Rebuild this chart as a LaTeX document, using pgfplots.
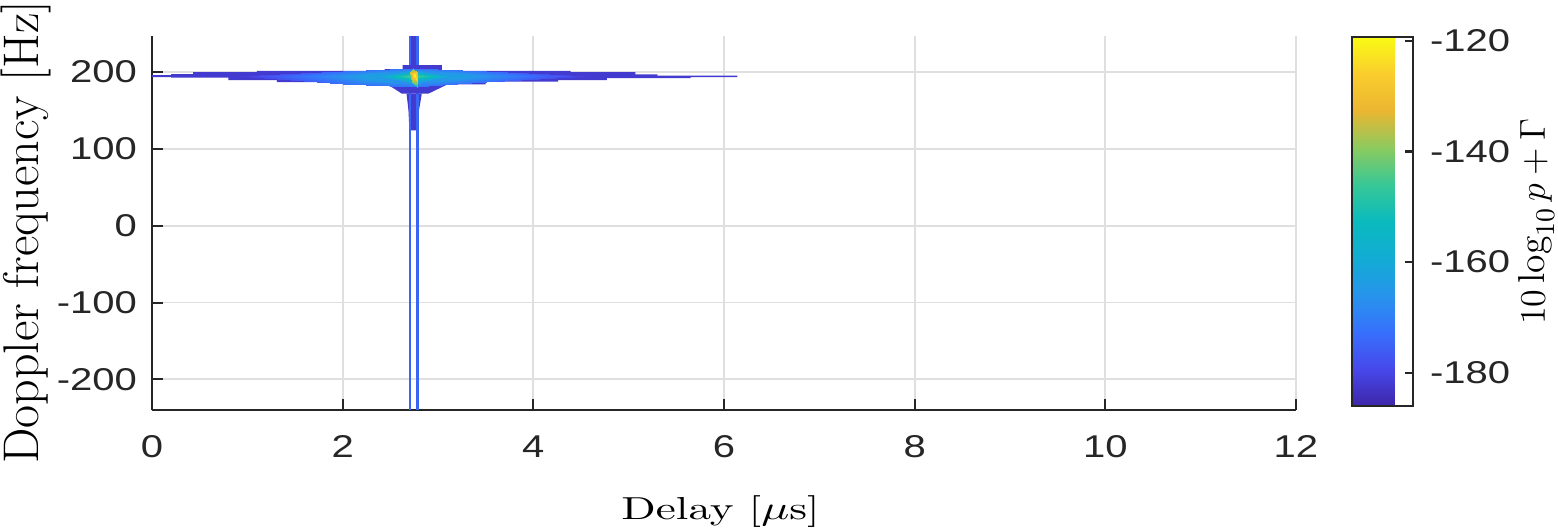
\documentclass[border=0pt]{standalone}
\usepackage{pgfplots}
\pgfplotsset{compat=1.18}
\usepackage{fontspec}
\usepackage{graphicx}
\newfontfamily\tickfont{Liberation Sans}

\definecolor{axgray}{RGB}{38,38,38}
\definecolor{gridgray}{RGB}{223,223,223}
\definecolor{bandblue}{RGB}{67,58,208}
\definecolor{lineblue}{RGB}{58,102,246}

\pgfplotsset{
  colormap={parula}{
    rgb255=(62,38,168) rgb255=(71,72,235) rgb255=(55,112,252)
    rgb255=(39,148,236) rgb255=(18,172,212) rgb255=(10,186,190)
    rgb255=(55,200,150) rgb255=(140,202,95) rgb255=(235,182,50)
    rgb255=(250,205,45) rgb255=(249,251,20)
  },
}
% matlab style tick numbers, a bit wide
\newcommand{\tk}[1]{\scalebox{1.27}[1]{\pgfmathprintnumber[assume math mode=true]{#1}}}

\begin{document}
\begin{tikzpicture}
\begin{axis}[
    name=main,
    scale only axis, width=381.3pt, height=124.7pt,
    xmin=0, xmax=12, ymin=-240, ymax=247,
    xtick={0,2,...,12}, ytick={-200,-100,0,100,200},
    axis x line*=bottom, axis y line*=left,
    axis line style={-, axgray, line width=0.7pt},
    tick align=inside, major tick length=3.6pt,
    tick style={axgray, line width=0.7pt},
    grid=major, grid style={gridgray, line width=0.6pt},
    tick label style={font=\tickfont\fontsize{10.5}{12}\selectfont, text=axgray},
    xticklabel={\tk{\tick}}, yticklabel={\tk{\tick}},
    xticklabel style={yshift=-5pt},
    yticklabel style={xshift=-1.5pt},
    xlabel={\scalebox{1.42}[1]{Delay [$\mu$s]}},
    xlabel style={font=\fontsize{10.6}{12}\selectfont, at={(axis description cs:0.497,-0.2915)}, anchor=base},
    ylabel={\fontsize{16.7}{20}\selectfont Doppler frequency [Hz]},
    ylabel style={at={(axis description cs:-0.1105,0.475)}, anchor=center},
    colormap name=parula,
    point meta min=-186, point meta max=-119.3,
    colorbar,
    colorbar style={
        at={(parent axis.north east)}, anchor=north west,
        xshift=10.1pt, yshift=-0.33pt,
        scale only axis, width=20.3pt, height=123pt,
        ytick={-180,-160,-140,-120},
        ytick pos=right, yticklabel pos=right,
        tick align=inside, major tick length=2.7pt,
        tick style={axgray, line width=0.7pt},
        axis line style={axgray, line width=0.7pt},
        ymajorgrids=false,
        yticklabel style={font=\tickfont\fontsize{10.5}{12}\selectfont, text=axgray, xshift=2.2pt},
        yticklabel={\tk{\tick}},
        ylabel={\fontsize{12.5}{15}\selectfont$10\log_{10}p+\Gamma$},
        ylabel style={at={(axis description cs:3.03,0.5)}, anchor=center},
    },
]
% stems above and below the main peak
\addplot[fill=bandblue, draw=none] coordinates {
    (2.695,209) (2.805,209) (2.805,247) (2.695,247)} -- cycle;
\addplot[fill=bandblue, draw=none] coordinates {
    (2.67,172) (2.83,172) (2.80,150) (2.795,124) (2.70,124) (2.69,150)} -- cycle;
% the two vertical ridges
\addplot[lineblue, line width=0.85pt] coordinates {(2.706,-240) (2.706,247)};
\addplot[lineblue, line width=0.85pt] coordinates {(2.785,-240) (2.785,247)};
% horizontal band (outline of the -182 dB level)
\addplot[fill=bandblue, draw=none] coordinates {
    (0,193.5) (0,196) (0.2,196) (0.2,197.5) (0.43,197.5) (0.43,200)
    (1.1,200) (1.1,201.5) (2.44,201.5) (2.44,204) (2.63,204) (2.63,209)
    (3.04,209) (3.04,201.5) (4.39,201.5) (4.39,200) (5.07,200) (5.07,197)
    (5.3,197) (5.3,195.5) (6.14,195.5) (6.14,193.5) (5.65,193.5) (5.65,192)
    (4.77,192) (4.77,189.6) (4.26,189.6) (4.26,187.5) (3.5,187.5) (3.5,184)
    (3.1,184) (3.0,178) (2.9,172) (2.62,172) (2.52,180) (2.45,184)
    (2.13,184) (2.13,187) (1.31,187) (1.31,189.6) (0.8,189.6) (0.8,192.7)
    (0.2,192.7) (0.2,193.5)} -- cycle;
% glow of the band
\addplot[patch, shader=interp, point meta=explicit] table[meta=c] {
x y c
2.74 195 -155
0.9 195 -182
2.0 201.5 -173
2.74 195 -155
2.0 201.5 -173
2.74 205 -172
2.74 195 -155
2.74 205 -172
3.5 201.5 -173
2.74 195 -155
3.5 201.5 -173
4.6 195 -182
2.74 195 -155
4.6 195 -182
3.5 187.5 -173
2.74 195 -155
3.5 187.5 -173
2.74 181 -172
2.74 195 -155
2.74 181 -172
2.0 184 -173
2.74 195 -155
2.0 184 -173
0.9 195 -182
};
% inner part
\addplot[patch, shader=interp, point meta=explicit] table[meta=c] {
x y c
2.74 195 -142
2.30 195 -166
2.74 204 -170
2.74 195 -142
2.74 204 -170
3.20 195 -166
2.74 195 -142
3.20 195 -166
2.74 183 -170
2.74 195 -142
2.74 183 -170
2.30 195 -166
};
% peak
\addplot[patch, shader=interp, point meta=explicit] table[meta=c] {
x y c
2.745 196 -119.5
2.735 204 -142
2.775 200 -132
2.745 196 -119.5
2.775 200 -132
2.79 186 -130
2.745 196 -119.5
2.79 186 -130
2.78 180 -152
2.745 196 -119.5
2.78 180 -152
2.725 187 -140
2.745 196 -119.5
2.725 187 -140
2.705 200 -135
2.745 196 -119.5
2.705 200 -135
2.735 204 -142
};
\end{axis}
\pgfresetboundingbox
\path[use as bounding box] ([xshift=-50.67pt,yshift=-39pt]main.south west)
    rectangle ([xshift=87.33pt,yshift=12pt]main.north east);
\end{tikzpicture}
\end{document}
